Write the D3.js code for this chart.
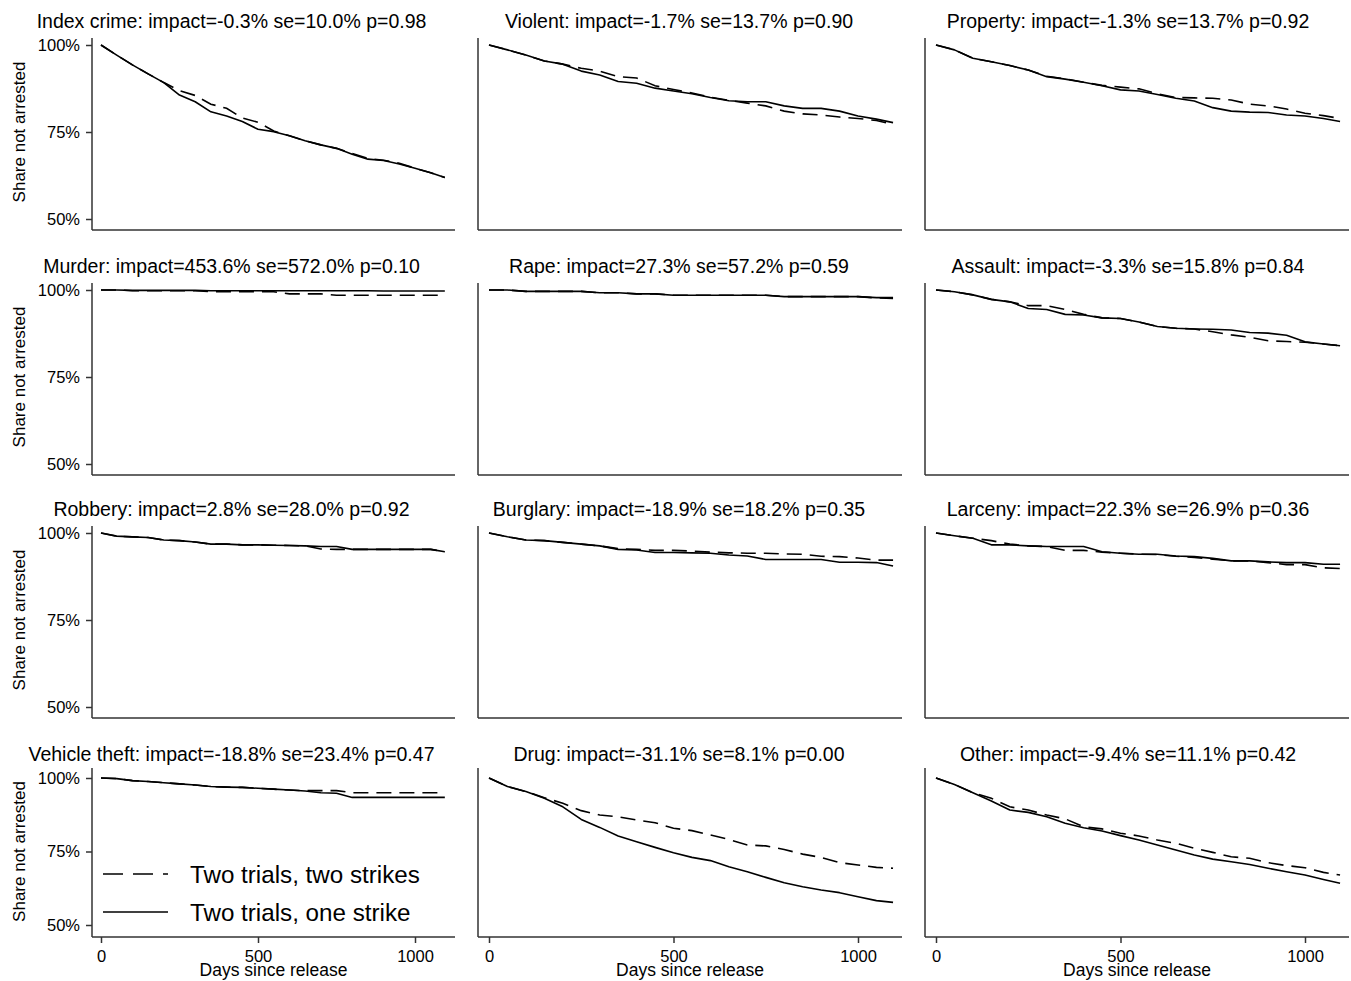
<!DOCTYPE html>
<html>
<head>
<meta charset="utf-8">
<script src="https://cdn.jsdelivr.net/npm/d3@7"></script>
<style>
  html, body { margin: 0; padding: 0; background: #fff; }
  svg { display: block; }
  text { font-family: "Liberation Sans", Arial, sans-serif; fill: #000; }
</style>
</head>
<body>
<svg id="chart" width="1351" height="981"></svg>
<script>
// ---------- data ----------
const days = [0,50,100,150,200,250,300,350,400,450,500,550,600,650,700,750,800,850,900,950,1000,1050,1095];

const crimeNames = ["Index crime","Violent","Property","Murder","Rape","Assault","Robbery","Burglary","Larceny","Vehicle theft","Drug","Other"];
const impactLabels = ["-0.3%","-1.7%","-1.3%","453.6%","27.3%","-3.3%","2.8%","-18.9%","22.3%","-18.8%","-31.1%","-9.4%"];
const seLabels = ["10.0%","13.7%","13.7%","572.0%","57.2%","15.8%","28.0%","18.2%","26.9%","23.4%","8.1%","11.1%"];
const pLabels = ["0.98","0.90","0.92","0.10","0.59","0.84","0.92","0.35","0.36","0.47","0.00","0.42"];

const yTickValues = [50, 75, 100];
const yTickLabels = ["50%", "75%", "100%"];
const xTickValues = [0, 500, 1000];
const legendLabels = ["Two trials, two strikes", "Two trials, one strike"];

// share not arrested (%), two strikes (dashed) and one strike (solid)
const indexTwo    = [100,97.1,94.3,91.7,89.2,86.9,85.5,83.0,81.8,79.0,77.8,75.3,73.9,72.5,71.3,70.3,68.8,67.4,66.9,66.0,64.6,63.3,61.9];
const indexOne    = [100,97.1,94.3,91.7,89.2,85.6,83.7,80.8,79.6,78.0,75.8,75.1,73.9,72.5,71.3,70.3,68.6,67.2,66.8,65.8,64.6,63.3,61.9];
const violentTwo  = [100,98.6,97.1,95.4,94.5,93.3,92.5,90.9,90.5,88.3,87.2,86.2,85.0,84.1,83.3,82.5,81.0,80.2,79.9,79.3,78.9,78.3,77.2];
const violentOne  = [100,98.6,97.1,95.4,94.5,92.5,91.4,89.5,89.0,87.6,86.8,86.0,84.9,84.0,83.7,83.7,82.5,81.8,81.8,81.0,79.6,78.7,77.7];
const propertyTwo = [100,98.6,96.2,95.2,94.1,92.8,91.0,90.3,89.3,88.4,87.9,87.4,86.0,84.9,84.8,84.7,84.2,83.0,82.5,81.6,80.4,79.7,78.9];
const propertyOne = [100,98.6,96.2,95.2,94.1,92.8,90.9,90.2,89.3,88.3,87.1,86.8,85.8,84.7,83.9,82.0,81.0,80.7,80.6,79.9,79.6,78.9,78.0];
const murderTwo   = [100,100,99.8,99.8,99.8,99.8,99.8,99.5,99.5,99.5,99.5,99.5,98.9,98.9,98.9,98.5,98.5,98.5,98.5,98.5,98.5,98.5,98.5];
const murderOne   = [100,100,99.9,99.9,99.9,99.9,99.9,99.8,99.8,99.8,99.8,99.8,99.8,99.8,99.8,99.8,99.8,99.8,99.7,99.7,99.7,99.7,99.7];
const rapeTwo     = [100,100,99.6,99.6,99.6,99.6,99.2,99.2,98.9,98.9,98.5,98.5,98.5,98.5,98.5,98.5,98.1,98.1,98.1,98.1,98.1,97.7,97.6];
const rapeOne     = [100,100,99.6,99.6,99.6,99.6,99.2,99.2,98.9,98.9,98.5,98.5,98.5,98.5,98.5,98.5,98.1,98.1,98.1,98.1,98.1,97.8,97.8];
const assaultTwo  = [100,99.5,98.6,97.3,96.6,95.5,95.5,94.4,93.0,92.0,91.8,90.8,89.5,89.0,88.8,88.0,87.1,86.4,85.4,85.2,85.0,84.5,84.0];
const assaultOne  = [100,99.5,98.6,97.3,96.6,94.7,94.4,93.0,92.8,92.0,91.8,90.8,89.5,89.0,88.8,88.7,88.5,87.8,87.6,87.0,85.1,84.5,84.0];
const robberyTwo  = [100,99.1,98.9,98.7,98.0,97.8,97.4,96.8,96.8,96.6,96.6,96.5,96.4,96.3,95.4,95.3,95.3,95.3,95.3,95.3,95.3,95.3,94.6];
const robberyOne  = [100,99.1,98.9,98.7,98.0,97.8,97.4,96.8,96.8,96.6,96.6,96.5,96.4,96.3,96.1,96.1,95.3,95.3,95.3,95.3,95.3,95.3,94.6];
const burglaryTwo = [100,98.9,98.0,97.8,97.3,96.8,96.3,95.5,95.3,95.0,95.0,94.8,94.5,94.3,94.2,94.2,94.0,93.9,93.3,93.2,92.8,92.2,92.2];
const burglaryOne = [100,98.9,98.0,97.8,97.3,96.8,96.3,95.3,95.1,94.4,94.4,94.3,94.2,93.7,93.4,92.4,92.4,92.4,92.4,91.6,91.6,91.5,90.5];
const larcenyTwo  = [100,99.2,98.5,97.8,96.8,96.3,96.1,95.0,95.0,94.5,94.2,93.9,93.8,93.3,93.0,92.5,92.0,92.0,91.5,90.9,90.9,90.0,89.8];
const larcenyOne  = [100,99.2,98.5,96.6,96.6,96.3,96.1,96.1,96.1,94.6,94.2,93.9,93.9,93.4,93.2,92.7,92.0,92.0,91.7,91.5,91.5,91.0,91.0];
const vehicleTwo  = [100,99.8,99.1,98.8,98.4,98.0,97.6,97.1,96.9,96.8,96.5,96.2,95.9,95.7,95.7,95.7,95.0,95.0,95.0,95.0,95.0,95.0,95.0];
const vehicleOne  = [100,99.8,99.1,98.8,98.4,98.0,97.6,97.1,96.9,96.8,96.5,96.2,95.9,95.6,95.0,94.8,93.4,93.4,93.4,93.4,93.4,93.4,93.4];
const drugTwo     = [100,97.1,95.4,93.3,91.4,88.9,87.4,86.8,85.7,84.8,82.9,82.1,80.6,79.1,77.2,76.9,75.7,74.1,73.0,71.2,70.4,69.6,69.3];
const drugOne     = [100,97.1,95.4,93.1,90.2,85.9,83.2,80.3,78.3,76.4,74.6,73.0,71.9,69.8,68.1,66.2,64.4,63.0,61.9,61.0,59.6,58.3,57.7];
const otherTwo    = [100,97.8,95.0,93.1,90.2,89.1,87.4,86.1,83.4,82.7,81.2,80.3,78.9,77.8,76.1,74.7,73.2,72.7,71.2,70.2,69.5,67.9,67.0];
const otherOne    = [100,97.8,95.0,92.2,89.1,88.3,86.8,84.6,83.1,82.0,80.4,78.9,77.2,75.5,73.8,72.4,71.5,70.6,69.3,68.1,67.0,65.5,64.2];

const twoStrikeSeries = [indexTwo, violentTwo, propertyTwo, murderTwo, rapeTwo, assaultTwo, robberyTwo, burglaryTwo, larcenyTwo, vehicleTwo, drugTwo, otherTwo];
const oneStrikeSeries = [indexOne, violentOne, propertyOne, murderOne, rapeOne, assaultOne, robberyOne, burglaryOne, larcenyOne, vehicleOne, drugOne, otherOne];

// ---------- layout ----------
const cols = [
  { axisX: 92,  right: 455,  x0: 101, x1000: 415,  titleX: 231.5 },
  { axisX: 478, right: 902,  x0: 489, x1000: 858,  titleX: 679 },
  { axisX: 925, right: 1349, x0: 936, x1000: 1305, titleX: 1128 }
];
const rows = [
  { y100: 45,  y50: 219, bottom: 230, top: 38 },
  { y100: 290, y50: 464, bottom: 475, top: 283 },
  { y100: 533, y50: 707, bottom: 718, top: 526 },
  { y100: 778, y50: 925, bottom: 937, top: 768 }
];

const svg = d3.select("#chart");
const AXIS_COLOR = "#333";

crimeNames.forEach((name, i) => {
  const r = Math.floor(i / 3), c = i % 3;
  const col = cols[c], row = rows[r];
  const x = d3.scaleLinear().domain([0, 1000]).range([col.x0, col.x1000]);
  const y = d3.scaleLinear().domain([50, 100]).range([row.y50, row.y100]);
  const g = svg.append("g");

  // title
  g.append("text")
    .attr("x", col.titleX).attr("y", row.y100 - 17)
    .attr("text-anchor", "middle")
    .style("font-size", "19.5px")
    .text(`${name}: impact=${impactLabels[i]} se=${seLabels[i]} p=${pLabels[i]}`);

  // axis lines
  g.append("line")
    .attr("x1", col.axisX).attr("x2", col.axisX)
    .attr("y1", row.top).attr("y2", row.bottom)
    .attr("stroke", AXIS_COLOR).attr("stroke-width", 1.5);
  g.append("line")
    .attr("x1", col.axisX).attr("x2", col.right)
    .attr("y1", row.bottom).attr("y2", row.bottom)
    .attr("stroke", AXIS_COLOR).attr("stroke-width", 1.5);

  // y axis (first column only)
  if (c === 0) {
    const ya = g.append("g")
      .attr("transform", `translate(${col.axisX},0)`)
      .call(d3.axisLeft(y).tickValues(yTickValues)
        .tickFormat((d, k) => yTickLabels[k]).tickSize(6).tickPadding(6));
    ya.select(".domain").remove();
    ya.selectAll(".tick line").attr("stroke", AXIS_COLOR).attr("stroke-width", 1.5);
    ya.selectAll(".tick text").style("font-size", "16.5px")
      .style("font-family", '"Liberation Sans", Arial, sans-serif').attr("fill", "#000");
    g.append("text")
      .attr("transform", `translate(24.5,${y(75)}) rotate(-90)`)
      .attr("text-anchor", "middle")
      .style("font-size", "17px")
      .text("Share not arrested");
  }

  // x axis (bottom row only)
  if (r === 3) {
    const xa = g.append("g")
      .attr("transform", `translate(0,${row.bottom})`)
      .call(d3.axisBottom(x).tickValues(xTickValues).tickFormat(d3.format("d"))
        .tickSize(6).tickPadding(7));
    xa.select(".domain").remove();
    xa.selectAll(".tick line").attr("stroke", AXIS_COLOR).attr("stroke-width", 1.5);
    xa.selectAll(".tick text").style("font-size", "16.5px")
      .style("font-family", '"Liberation Sans", Arial, sans-serif').attr("fill", "#000");
    g.append("text")
      .attr("x", (col.axisX + col.right) / 2).attr("y", 976)
      .attr("text-anchor", "middle")
      .style("font-size", "17.5px")
      .text("Days since release");
  }

  // curves
  const line = d3.line()
    .x((d, k) => x(days[k]))
    .y(d => y(d))
    .curve(d3.curveLinear);

  g.append("path").datum(oneStrikeSeries[i])
    .attr("d", line).attr("fill", "none")
    .attr("stroke", "#000").attr("stroke-width", 1.6)
    .attr("stroke-linejoin", "round");
  g.append("path").datum(twoStrikeSeries[i])
    .attr("d", line).attr("fill", "none")
    .attr("stroke", "#000").attr("stroke-width", 1.6)
    .attr("stroke-dasharray", "15,8");

  // legend in the Vehicle theft panel
  if (i === 9) {
    const lg = g.append("g");
    const items = [
      { label: legendLabels[0], dash: "20,10", ly: 874, ty: 882.5 },
      { label: legendLabels[1], dash: null, ly: 912, ty: 920.5 }
    ];
    items.forEach(it => {
      lg.append("line")
        .attr("x1", 103).attr("x2", 168)
        .attr("y1", it.ly).attr("y2", it.ly)
        .attr("stroke", "#000").attr("stroke-width", 1.5)
        .attr("stroke-dasharray", it.dash);
      lg.append("text")
        .attr("x", 190).attr("y", it.ty)
        .style("font-size", "24.2px")
        .text(it.label);
    });
  }
});
</script>
</body>
</html>
